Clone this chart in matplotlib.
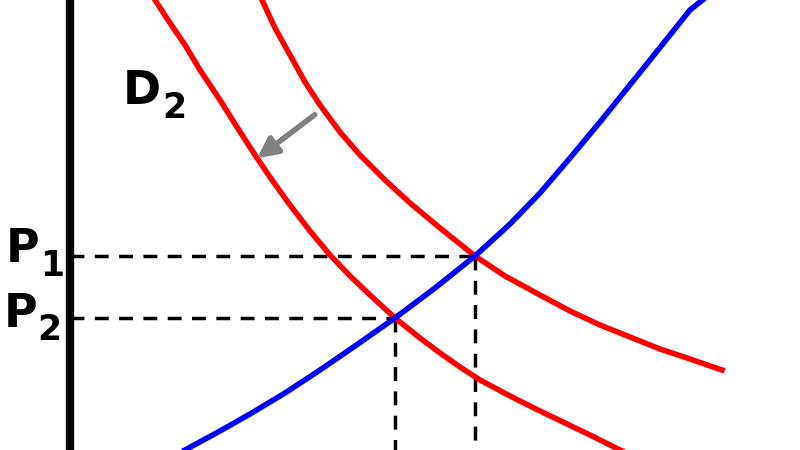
import matplotlib
matplotlib.use("Agg")
import matplotlib.pyplot as plt

supply_x = [185, 220, 250, 285, 320, 355, 395, 435, 475, 510, 540, 570, 600, 625, 650, 670, 690, 715]
supply_y = [450, 431, 414, 393, 370, 346, 318, 288, 256, 224, 193, 158, 122, 91, 60, 35, 10, -10]
d1_x = [262, 275, 290, 305, 320, 340, 360, 385, 410, 440, 475, 505, 540, 570, 600, 630, 660, 690, 722]
d1_y = [0, 28, 55, 82, 105, 132, 155, 180, 203, 228, 256, 276, 295, 311, 325, 337, 349, 359, 370]
d2_x = [155, 170, 185, 200, 220, 237, 255, 272, 290, 310, 330, 350, 370, 395, 420, 440, 460, 480, 510, 540, 565, 590, 630]
d2_y = [0, 23, 45, 70, 100, 127, 155, 180, 205, 231, 255, 276, 295, 318, 338, 353, 367, 380, 396, 411, 423, 435, 455]
p1 = (475, 256)
p2 = (395, 318)

fig = plt.figure(figsize=(8, 4.5), dpi=100)
ax = fig.add_axes([0, 0, 1, 1])
ax.set_xlim(0, 800)
ax.set_ylim(450, 0)
ax.axis('off')

ax.plot([70, 70], [0, 450], color='black', lw=6, solid_capstyle='butt')
for (x, y) in (p1, p2):
    ax.plot([70, x], [y, y], color='black', lw=2.5, ls=(0, (4, 3)))
    ax.plot([x, x], [y, 450], color='black', lw=2.5, ls=(0, (4, 3)))
ax.plot(d1_x, d1_y, color='#ff0000', lw=4, solid_joinstyle='round')
ax.plot(d2_x, d2_y, color='#ff0000', lw=4, solid_joinstyle='round')
ax.plot(supply_x, supply_y, color='#0000ff', lw=4, solid_joinstyle='round')
ax.annotate('', xy=(255, 160), xytext=(317, 113),
            arrowprops=dict(arrowstyle='-|>,head_length=1.2,head_width=0.6', color='gray', lw=4))

kw = dict(fontweight='bold', ha='left', va='baseline')
ax.text(6, 262, 'P', fontsize=33, **kw)
ax.text(40, 276, '1', fontsize=25, **kw)
ax.text(4, 327, 'P', fontsize=33, **kw)
ax.text(37, 340, '2', fontsize=25, **kw)
ax.text(123, 104, 'D', fontsize=33, **kw)
ax.text(162, 118, '2', fontsize=25, **kw)

fig.savefig('out.png', dpi=100)
